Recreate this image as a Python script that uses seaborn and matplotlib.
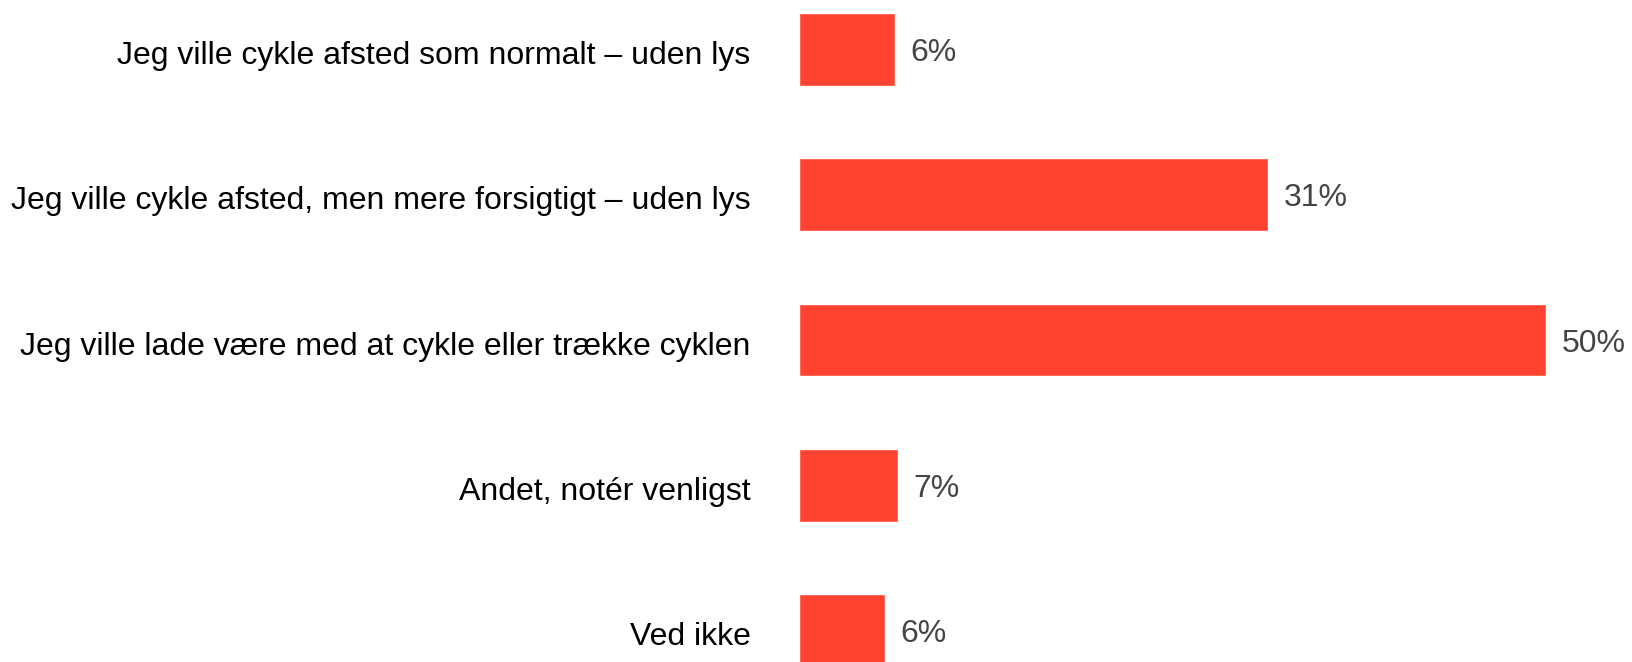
import pandas as pd
import matplotlib.pyplot as plt
import matplotlib.transforms as mtransforms
import seaborn as sns

# survey answers and their share in percent
answers = [
    "Jeg ville cykle afsted som normalt – uden lys",
    "Jeg ville cykle afsted, men mere forsigtigt – uden lys",
    "Jeg ville lade være med at cykle eller trække cyklen",
    "Andet, notér venligst",
    "Ved ikke",
]
shares = [6.4, 31.4, 50.0, 6.6, 5.75]

df = pd.DataFrame({"answer": answers, "share": shares})

sns.set_style("white")
plt.rcParams['font.family'] = ['Liberation Sans', 'DejaVu Sans']

fig = plt.figure(figsize=(16.32, 6.62), dpi=100)
ax = fig.add_axes([0.4897, 0.0, 0.5103, 1.0])

sns.barplot(data=df, x="share", y="answer", orient="h", color="#ff4330",
            width=0.5, saturation=1, ax=ax)

# nudge texts a few pixels down to sit like the original
shift = mtransforms.ScaledTranslation(0, -3 / 100, fig.dpi_scale_trans)

texts = ax.bar_label(ax.containers[0], labels=[f"{v:.0f}%" for v in shares],
                     padding=11, fontsize=23, color="#444444")
for t in texts:
    t.set_verticalalignment("center_baseline")
    t.set_transform(t.get_transform() + shift)

ax.set_xlim(0, 55.74)
ax.set_ylim(4.217, -0.341)
ax.set_xlabel("")
ax.set_ylabel("")
ax.set_xticks([])
ax.tick_params(axis="y", length=0, pad=35, labelsize=23, labelcolor="black")
for lbl in ax.get_yticklabels():
    lbl.set_transform(lbl.get_transform() + shift)
sns.despine(ax=ax, left=True, bottom=True)

fig.savefig("out.png", dpi=100)
plt.close()
